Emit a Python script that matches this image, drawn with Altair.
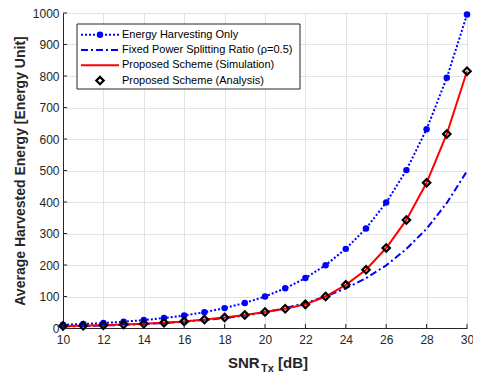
import altair as alt
import pandas as pd

snr = list(range(10, 31))
eh_only = [10, 12.6, 15.8, 20.0, 25.1, 31.6, 39.8, 50.1, 63.1, 79.4, 100,
           125.9, 158.5, 199.5, 251.2, 316.2, 398.1, 501.2, 631.0, 794.3, 995]
fixed_ps = [5, 6.3, 7.9, 10, 12.6, 15.8, 19.9, 25.1, 31.5, 39.7, 50,
            63, 79, 100, 126, 158, 199, 251, 315, 397, 498]
prop_sim = [6, 7, 9, 11, 13.5, 17, 21, 27, 33, 41, 51,
            61, 75, 100, 137, 185, 254, 343, 461, 616, 815]
prop_ana = [6, 7, 9, 11, 13.5, 17, 21, 27, 33, 41, 51,
            61, 75, 100, 137, 185, 254, 343, 461, 616, 815]

legend_labels = ["Energy Harvesting Only",
                 "Fixed Power Splitting Ratio (\u03c1=0.5)",
                 "Proposed Scheme (Simulation)",
                 "Proposed Scheme (Analysis)"]
x_ticks = list(range(10, 31, 2))
y_ticks = list(range(0, 1001, 100))

W, H = 404, 315
FONT = "Liberation Sans"
BLUE = "#0000ff"
RED = "#ff0000"
AX = "#262626"

df = pd.DataFrame({"snr": snr, "eh": eh_only, "fps": fixed_ps,
                   "sim": prop_sim, "ana": prop_ana})

xs = alt.Scale(domain=[10, 30], nice=False)
ys = alt.Scale(domain=[0, 1000], nice=False)

xax = alt.Axis(values=x_ticks, title=None, tickSize=0, labelPadding=6,
               labelFontSize=12, labelColor=AX, domainColor=AX, gridColor="#e3e3e3",
               labelFont=FONT, labelFlush=False, labelOverlap=False, format="d")
yax = alt.Axis(values=y_ticks, title="Average Harvested Energy [Energy Unit]",
               tickSize=0, labelPadding=4, labelFontSize=12, labelColor=AX,
               domainColor=AX, gridColor="#e3e3e3", labelFont=FONT,
               labelOverlap=False, labelFlush=False, format="d",
               titleFont=FONT, titleFontSize=14, titleFontWeight="bold",
               titleColor=AX, titlePadding=5)


def X(f):
    return alt.X(f, scale=xs, axis=xax)


def Y(f):
    return alt.Y(f, scale=ys, axis=yax)


base = alt.Chart(df)

l_eh = base.mark_line(color=BLUE, strokeWidth=2, strokeDash=[2, 2]).encode(
    x=X("snr:Q"), y=Y("eh:Q"))
p_eh = base.mark_point(color=BLUE, filled=True, size=42, opacity=1).encode(
    x=X("snr:Q"), y=Y("eh:Q"))
l_fps = base.mark_line(color=BLUE, strokeWidth=2, strokeDash=[7, 3, 2, 3]).encode(
    x=X("snr:Q"), y=Y("fps:Q"))
l_sim = base.mark_line(color=RED, strokeWidth=2).encode(
    x=X("snr:Q"), y=Y("sim:Q"))
p_ana = base.mark_point(shape="diamond", color="black", filled=False,
                        strokeWidth=2.2, size=55, opacity=1).encode(
    x=X("snr:Q"), y=Y("ana:Q"))

# inward ticks
yt = alt.Chart(pd.DataFrame({"v": y_ticks})).mark_rule(color=AX, strokeWidth=1).encode(
    y=Y("v:Q"), x=alt.value(0), x2=alt.value(4))
xt = alt.Chart(pd.DataFrame({"v": x_ticks})).mark_rule(color=AX, strokeWidth=1).encode(
    x=X("v:Q"), y=alt.value(H), y2=alt.value(H - 4))

one = pd.DataFrame({"a": [0]})
layers = [l_eh, l_fps, l_sim, p_eh, p_ana, yt, xt]

# legend
box = alt.Chart(one).mark_rect(fill="white", stroke=AX, strokeWidth=1).encode(
    x=alt.value(14), x2=alt.value(237), y=alt.value(11), y2=alt.value(76))
layers.append(box)
ly0, dy = 21.7, 15.3
lx1, lx2, lxm, ltx = 18, 56, 37, 59
styles = [
    dict(color=BLUE, strokeWidth=2, strokeDash=[2, 2]),
    dict(color=BLUE, strokeWidth=2, strokeDash=[7, 3, 2, 3]),
    dict(color=RED, strokeWidth=2),
    None,
]
for i, lab in enumerate(legend_labels):
    yy = ly0 + dy * i
    if styles[i] is not None:
        layers.append(alt.Chart(one).mark_rule(**styles[i]).encode(
            x=alt.value(lx1), x2=alt.value(lx2), y=alt.value(yy)))
    if i == 0:
        layers.append(alt.Chart(one).mark_point(color=BLUE, filled=True, size=42, opacity=1).encode(
            x=alt.value(lxm), y=alt.value(yy)))
    if i == 3:
        layers.append(alt.Chart(one).mark_point(shape="diamond", color="black", filled=False,
                                                strokeWidth=2.2, size=55, opacity=1).encode(
            x=alt.value(lxm), y=alt.value(yy)))
    layers.append(alt.Chart(one).mark_text(align="left", baseline="middle", font=FONT,
                                           fontSize=11, color="black").encode(
        x=alt.value(ltx), y=alt.value(yy), text=alt.value(lab)))

# x title with subscript
tb = H + 40
layers.append(alt.Chart(one).mark_text(align="left", baseline="alphabetic", font=FONT,
                                       fontSize=15, fontWeight="bold", color=AX).encode(
    x=alt.value(165), y=alt.value(tb), text=alt.value("SNR")))
layers.append(alt.Chart(one).mark_text(align="left", baseline="alphabetic", font=FONT,
                                       fontSize=11, fontWeight="bold", color=AX).encode(
    x=alt.value(198), y=alt.value(tb + 4), text=alt.value("Tx")))
layers.append(alt.Chart(one).mark_text(align="left", baseline="alphabetic", font=FONT,
                                       fontSize=15, fontWeight="bold", color=AX).encode(
    x=alt.value(215), y=alt.value(tb), text=alt.value("[dB]")))

chart = alt.layer(*layers).properties(
    width=W, height=H,
    autosize=alt.AutoSizeParams(type="none"),
    padding={"left": 55, "top": 5, "right": 6, "bottom": 45},
).configure_view(stroke=None).configure(background="white")

chart.save("out.html", embed_options={"renderer": "svg", "actions": False})
